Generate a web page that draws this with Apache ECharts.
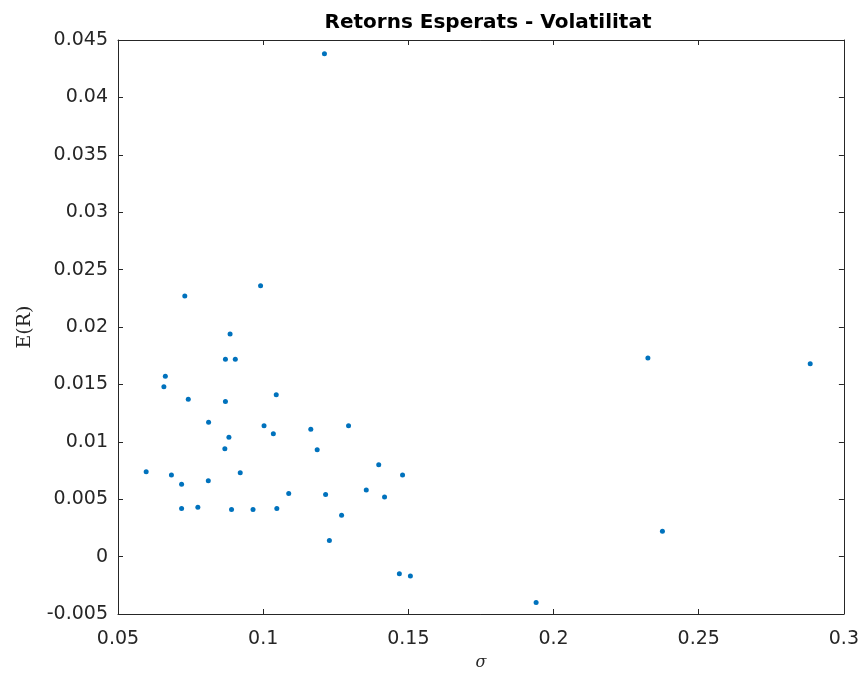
<!DOCTYPE html>
<html>
<head>
<meta charset="utf-8">
<script src="https://cdn.jsdelivr.net/npm/echarts@6/dist/echarts.min.js"></script>
<style>html,body{margin:0;padding:0;background:#fff}#c{width:862px;height:680px}</style>
</head>
<body>
<div id="c"></div>
<script>
const chartTitle = 'Retorns Esperats - Volatilitat';
const xName = 'σ';
const yName = 'E(R)';
const sigma = [0.1211,0.0730,0.0991,0.0886,0.0870,0.0904,0.0663,0.0658,0.0742,0.0870,0.1045,0.0812,0.1003,0.1035,0.0882,0.0868,0.0597,0.0684,0.0719,0.0811,0.0921,0.0719,0.0775,0.0891,0.0965,0.1047,0.1164,0.1294,0.1186,0.1398,0.1480,0.1088,0.1215,0.1355,0.1418,0.1270,0.1228,0.1469,0.1507,0.2325,0.2884,0.2375,0.1940];
const expRet = [0.0438,0.0227,0.0236,0.0194,0.0172,0.0172,0.0157,0.0148,0.0137,0.0135,0.0141,0.0117,0.0114,0.0107,0.0104,0.0094,0.0074,0.0071,0.0063,0.0066,0.0073,0.0042,0.0043,0.0041,0.0041,0.0042,0.0111,0.0114,0.0093,0.0080,0.0071,0.0055,0.0054,0.0058,0.0052,0.0036,0.0014,-0.0015,-0.0017,0.0173,0.0168,0.0022,-0.0040];
const xTicks = [0.05,0.1,0.15,0.2,0.25,0.3];
const yTicks = [-0.005,0,0.005,0.01,0.015,0.02,0.025,0.03,0.035,0.04,0.045];

const data = sigma.map((s,i)=>[s, expRet[i]]);
const axCol = '#262626';
const tickFont = 'DejaVu Sans, Liberation Sans, sans-serif';
const fmt = v => String(+v.toFixed(4));

const chart = echarts.init(document.getElementById('c'), null, {renderer:'canvas'});
const baseX = {
  type:'value', min:xTicks[0], max:xTicks[xTicks.length-1], interval:xTicks[1]-xTicks[0],
  axisLine:{show:true, onZero:false, lineStyle:{color:axCol, width:1}},
  axisTick:{show:true, inside:true, length:5, lineStyle:{color:axCol}},
  splitLine:{show:false}
};
const baseY = {
  type:'value', min:yTicks[0], max:yTicks[yTicks.length-1], interval:0.005,
  axisLine:{show:true, onZero:false, lineStyle:{color:axCol, width:1}},
  axisTick:{show:true, inside:true, length:5, lineStyle:{color:axCol}},
  splitLine:{show:false}
};
chart.setOption({
  animation:false,
  backgroundColor:'#ffffff',
  title:{text:chartTitle, left:483, top:8, textAlign:'center',
    textStyle:{fontFamily:'DejaVu Sans, Liberation Sans, sans-serif', fontSize:20, fontWeight:'bold', color:'#000'}},
  grid:{left:118, right:17, top:40, bottom:66, containLabel:false},
  xAxis:[
    Object.assign({}, baseX, {position:'bottom', name:xName, nameLocation:'middle', nameGap:41,
      nameTextStyle:{fontFamily:'DejaVu Serif, serif', fontStyle:'italic', fontSize:16, color:axCol},
      axisLabel:{show:true, margin:16, fontFamily:tickFont, fontSize:19, color:axCol, formatter:fmt}}),
    Object.assign({}, baseX, {position:'top', axisLabel:{show:false}})
  ],
  yAxis:[
    Object.assign({}, baseY, {position:'left', name:yName, nameLocation:'middle', nameGap:83, nameRotate:90,
      nameTextStyle:{fontFamily:'DejaVu Serif, Liberation Serif, serif', fontSize:19, color:axCol},
      axisLabel:{show:true, margin:10, padding:[7,0,0,0], fontFamily:tickFont, fontSize:19, color:axCol, formatter:fmt}}),
    Object.assign({}, baseY, {position:'right', axisLabel:{show:false}})
  ],
  series:[{
    type:'scatter', xAxisIndex:0, yAxisIndex:0, data:data,
    symbol:'circle', symbolSize:5,
    itemStyle:{color:'#0072BD', opacity:1}
  }]
});
</script>
</body>
</html>
